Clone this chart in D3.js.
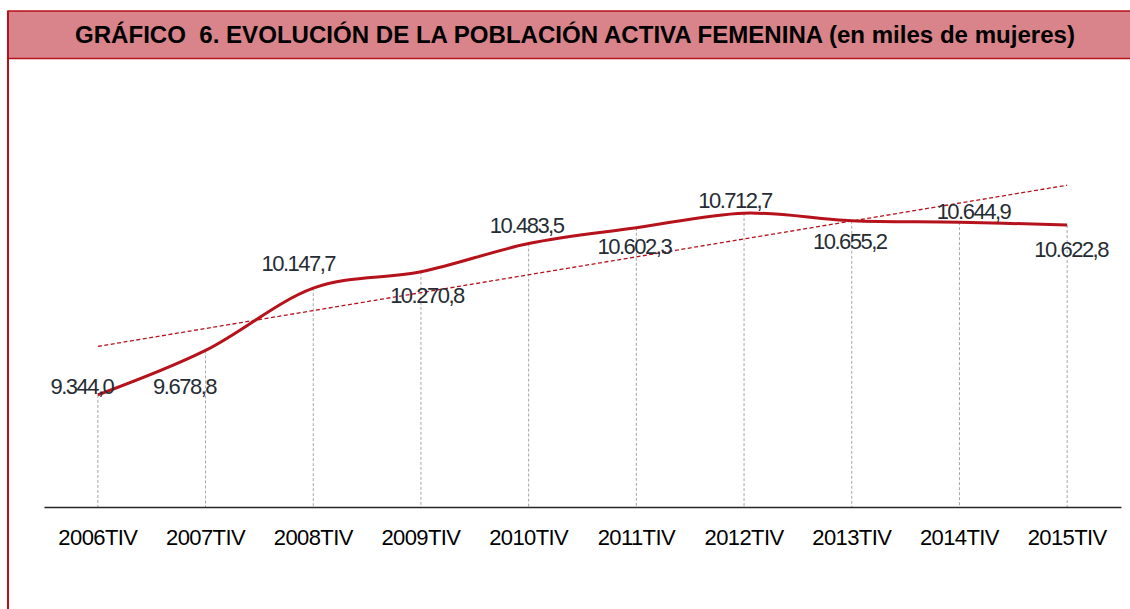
<!DOCTYPE html>
<html>
<head>
<meta charset="utf-8">
<script src="https://cdn.jsdelivr.net/npm/d3@7"></script>
<style>
  body { margin: 0; background: #fff; }
  svg { display: block; font-family: "Liberation Sans", Arial, sans-serif; }
</style>
</head>
<body>
<svg id="chart" width="1130" height="609"></svg>
<script>
(function (w) {
  const titleText = 'GRÁFICO  6. EVOLUCIÓN DE LA POBLACIÓN ACTIVA FEMENINA (en miles de mujeres)'
  const categories = ['2006TIV', '2007TIV', '2008TIV', '2009TIV', '2010TIV', '2011TIV', '2012TIV', '2013TIV', '2014TIV', '2015TIV']
  const values = [9344.0, 9678.8, 10147.7, 10270.8, 10483.5, 10602.3, 10712.7, 10655.2, 10644.9, 10622.8]
  const labels = ['9.344,0', '9.678,8', '10.147,7', '10.270,8', '10.483,5', '10.602,3', '10.712,7', '10.655,2', '10.644,9', '10.622,8']
  // label offsets from the point, [dx, dy]
  const labelOffsets = [[-16, -8], [-21, 36], [-15, -25], [6, 24], [-2, -18], [-2, 19], [-9, -13], [-2, 21], [14, -11], [4, 24]]

  const red = '#b5121b'
  const d3 = w.d3
  const svg = d3.select('#chart')

  // title band
  svg.append('rect')
    .attr('x', 8).attr('y', 11)
    .attr('width', 1140).attr('height', 47.5)
    .attr('fill', '#d9838a')
    .attr('stroke', red).attr('stroke-width', 1.5)
  svg.append('line')
    .attr('x1', 8).attr('x2', 8).attr('y1', 11).attr('y2', 609)
    .attr('stroke', red).attr('stroke-width', 2)
  svg.append('text')
    .attr('x', 75).attr('y', 35)
    .attr('dominant-baseline', 'central')
    .attr('font-weight', 'bold')
    .attr('font-size', 23)
    .attr('textLength', 1000)
    .attr('lengthAdjust', 'spacingAndGlyphs')
    .style('white-space', 'pre')
    .attr('fill', '#000')
    .text(titleText)

  const x = d3.scaleBand().domain(categories).range([44, 1121]).padding(0)
  const cx = (c) => x(c) + x.bandwidth() / 2
  const y = d3.scaleLinear().domain([8500, 11000]).range([507, 175])

  const pts = categories.map((c, i) => ({ c: c, v: values[i], lab: labels[i], off: labelOffsets[i] }))

  // drop lines
  svg.append('g').selectAll('line')
    .data(pts)
    .enter().append('line')
    .attr('x1', (d) => cx(d.c)).attr('x2', (d) => cx(d.c))
    .attr('y1', (d) => y(d.v)).attr('y2', y.range()[0])
    .attr('stroke', '#a6a6a6')
    .attr('stroke-width', 1)
    .attr('stroke-dasharray', '3,2')

  // axis
  const axis = svg.append('g')
    .attr('transform', 'translate(0,' + y.range()[0] + ')')
    .call(d3.axisBottom(x).tickSize(0).tickSizeOuter(0))
  axis.select('.domain').attr('stroke', '#262626').attr('stroke-width', 1.5)
  axis.selectAll('text')
    .attr('y', 38).attr('dy', 0)
    .attr('font-size', 22)
    .attr('letter-spacing', '-0.6px')
    .attr('font-family', '"Liberation Sans", Arial, sans-serif')
    .attr('fill', '#000')

  // linear trend line
  const n = values.length
  const mx = (n - 1) / 2
  const my = d3.mean(values)
  const slope = d3.sum(values, (v, i) => (i - mx) * (v - my)) / d3.sum(values, (v, i) => (i - mx) * (i - mx))
  const trend = [0, n - 1].map((i) => ({ c: categories[i], v: my + slope * (i - mx) }))
  svg.append('path')
    .datum(trend)
    .attr('d', d3.line().x((d) => cx(d.c)).y((d) => y(d.v)))
    .attr('fill', 'none')
    .attr('stroke', red)
    .attr('stroke-width', 1.3)
    .attr('stroke-dasharray', '4,2.5')

  // series line
  svg.append('path')
    .datum(pts)
    .attr('d', d3.line().curve(d3.curveCatmullRom.alpha(0)).x((d) => cx(d.c)).y((d) => y(d.v)))
    .attr('fill', 'none')
    .attr('stroke', red)
    .attr('stroke-width', 3)

  // value labels
  svg.append('g').selectAll('text')
    .data(pts)
    .enter().append('text')
    .attr('x', (d) => cx(d.c) + d.off[0])
    .attr('y', (d) => y(d.v) + d.off[1])
    .attr('text-anchor', 'middle')
    .attr('dominant-baseline', 'central')
    .attr('font-size', 22)
    .attr('letter-spacing', '-1.5px')
    .attr('fill', '#262c33')
    .text((d) => d.lab)
})(window)
</script>
</body>
</html>
